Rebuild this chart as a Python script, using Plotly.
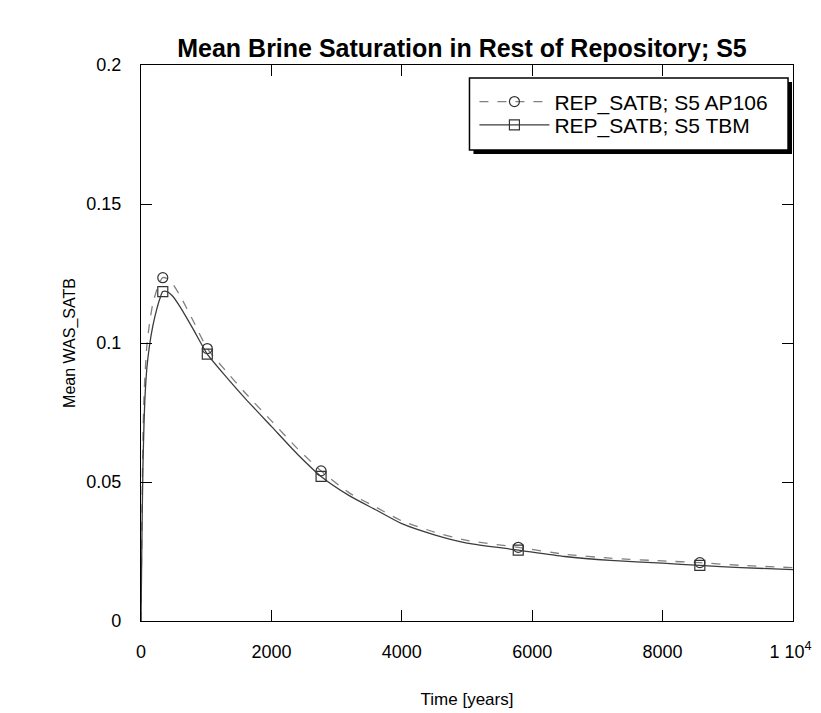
import plotly.graph_objects as go

# Time points (years)
time_years = [0, 15, 30, 45, 60, 90, 130, 180, 240, 290, 334, 400, 480, 600, 800, 1017,
              1300, 1600, 2000, 2400, 2762, 3200, 3600, 4000, 4500, 5000, 5786,
              6500, 7200, 8000, 8571, 9200, 10000]

# Mean brine saturation, S5 AP106
satb_ap106 = [0.0, 0.040, 0.066, 0.080, 0.088, 0.099, 0.107, 0.114, 0.119, 0.122, 0.1235,
              0.1232, 0.1215, 0.117, 0.108, 0.098,
              0.090, 0.082, 0.072, 0.062, 0.054, 0.046, 0.041, 0.036, 0.032, 0.029, 0.0265,
              0.024, 0.0226, 0.0216, 0.0210, 0.0200, 0.0192]

# Mean brine saturation, S5 TBM
satb_tbm = [0.0, 0.032, 0.056, 0.070, 0.080, 0.091, 0.099, 0.106, 0.112, 0.116, 0.1185,
            0.1185, 0.117, 0.113, 0.105, 0.096,
            0.088, 0.080, 0.070, 0.060, 0.052, 0.045, 0.040, 0.035, 0.031, 0.028, 0.0255,
            0.0232, 0.0218, 0.0208, 0.0200, 0.0192, 0.0185]

# Indices of the time points that carry markers
marker_idx = [10, 15, 20, 26, 30]

x_tickvals = [0, 2000, 4000, 6000, 8000, 10000]
x_ticktext = ["0", "2000", "4000", "6000", "8000", "1 10<sup>4</sup>&nbsp;"]
y_tickvals = [0, 0.05, 0.1, 0.15, 0.2]
y_ticktext = ["0", "0.05", "0.1", "0.15", "0.2"]

series = [
    ("REP_SATB; S5 AP106", satb_ap106, "#808080", "dash", "circle-open", "legend"),
    ("REP_SATB; S5 TBM", satb_tbm, "#3c3c3c", "solid", "square-open", "legend2"),
]

FONT = "Liberation Sans, Arial, Helvetica"

fig = go.Figure()
for name, vals, color, dash, sym, leg in series:
    fig.add_trace(go.Scatter(
        x=time_years, y=vals, mode="lines", showlegend=False,
        line=dict(color=color, width=1.3, dash=dash, shape="spline", smoothing=0.6),
        hoverinfo="skip"))
    fig.add_trace(go.Scatter(
        x=[time_years[i] for i in marker_idx], y=[vals[i] for i in marker_idx],
        mode="markers", showlegend=False,
        marker=dict(symbol=sym, size=10, color="#333333", line=dict(width=1.2))))
    fig.add_trace(go.Scatter(
        x=[None], y=[None], mode="lines+markers", name=name, legend=leg,
        line=dict(color=color, width=1.3, dash=dash),
        marker=dict(symbol=sym, size=10, color="#333333", line=dict(width=1.2))))

axis_common = dict(
    showline=True, linecolor="black", linewidth=1.2, mirror="ticks",
    ticks="inside", ticklen=11, tickcolor="black", tickwidth=1,
    showgrid=False, zeroline=False,
    tickfont=dict(family=FONT, size=18, color="black"),
)

fig.update_xaxes(range=[0, 10000], tickvals=x_tickvals, ticktext=x_ticktext,
                 ticklabeloverflow="allow",
                 title=dict(text="Time [years]", standoff=32,
                            font=dict(family=FONT, size=17, color="black")),
                 ticklabelstandoff=14, **axis_common)
fig.update_yaxes(range=[0, 0.2], tickvals=y_tickvals, ticktext=y_ticktext,
                 title=dict(text="Mean WAS_SATB", standoff=6,
                            font=dict(family=FONT, size=16, color="black")),
                 ticklabelstandoff=15, **axis_common)

# legend shadow and frame
fig.add_shape(type="rect", xref="paper", yref="paper",
              x0=0.5099, x1=0.9985, y0=0.8399, y1=0.9694,
              fillcolor="black", line=dict(width=0), layer="above")
fig.add_shape(type="rect", xref="paper", yref="paper",
              x0=0.5038, x1=0.9924, y0=0.8471, y1=0.9766,
              fillcolor="white", line=dict(color="black", width=1.5), layer="above")

legend_common = dict(xanchor="left", yanchor="top", bgcolor="rgba(0,0,0,0)",
                     borderwidth=0, itemwidth=70,
                     font=dict(family=FONT, size=21, color="black"))

fig.update_layout(
    width=821, height=713,
    margin=dict(l=133, r=29, t=57, b=100),
    paper_bgcolor="white", plot_bgcolor="white",
    title=dict(text="<b>Mean Brine Saturation in Rest of Repository; S5</b>",
               x=0.553, xanchor="center", y=0.944, yanchor="middle",
               font=dict(family=FONT, size=25, color="black")),
    legend=dict(x=0.5114, y=0.9705, **legend_common),
    legend2=dict(x=0.5114, y=0.9285, **legend_common),
    showlegend=True,
)

fig.write_html("out.html")
